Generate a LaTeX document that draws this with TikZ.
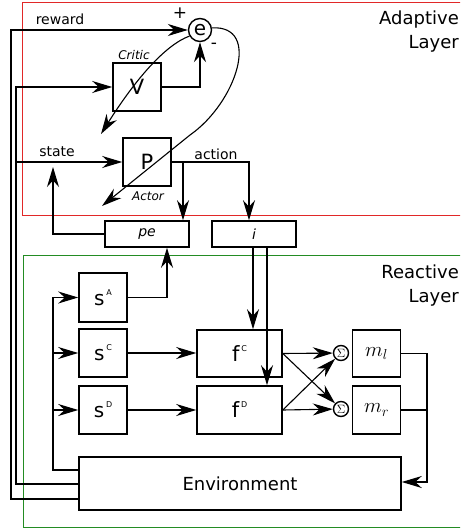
\documentclass[tikz,border=0pt]{standalone}
\usepackage{fontspec}
\setmainfont{DejaVu Sans}
\usetikzlibrary{arrows.meta,calc}
\definecolor{adaptred}{RGB}{225,40,40}
\definecolor{reactgreen}{RGB}{35,140,35}
\newcommand\fsz[1]{\fontsize{#1}{#1}\selectfont}
\newcommand\supl[1]{\hspace{1.8pt}\raisebox{10pt}{\fsz{8}#1}}
\tikzset{
  box/.style={draw, line width=1.6pt, inner sep=0pt},
  circ/.style={draw, circle, line width=1.4pt, inner sep=0pt},
  conn/.style={line width=1.1pt},
  arr/.style={conn, -{Stealth[length=20pt,width=12pt,inset=6.5pt]}},
  lbl/.style={inner sep=0pt, font=\fsz{14}},
  layer/.style={inner sep=0pt, anchor=north east, align=right, font=\fontsize{18}{23.5}\selectfont},
}
\begin{document}
\begin{tikzpicture}[x=1pt,y=-1pt]
\useasboundingbox (0,0) rectangle (460,529);
\clip (0,0) rectangle (460,529);
% layers
\draw[adaptred, line width=1.6pt] (22.5,2.5) rectangle (480,215.5);
\draw[reactgreen, line width=1.6pt] (23.5,255.5) rectangle (480,527.5);
\node[layer] (ladapt) at (459,11) {Adaptive\\Layer};
\node[layer] (lreact) at (459,265) {Reactive\\Layer};
% rails and levels
\coordinate (r11) at (11,0);
\coordinate (r16) at (16,0);
\coordinate (r53) at (53,0);
\coordinate (xb) at (183,0);
\coordinate (xa) at (249,0);
\coordinate (xc) at (167,0);
\coordinate (xd) at (253,0);
\coordinate (xe) at (267,0);
\coordinate (r427) at (427,0);
\coordinate (y470) at (0,470);
\coordinate (y482) at (0,482);
\coordinate (y484) at (0,484);
\coordinate (y499) at (0,499);
\coordinate (stateup) at (53,167);
\coordinate (cv1) at (101,134);
\coordinate (cv2) at (102,206);
% nodes
\node[circ, minimum size=23pt, font=\fsz{20}] (e) at (200,30) {e};
\node[box, minimum size=48pt, font=\fsz{21}] (V) at (137,87) {V};
\node[box, minimum size=48pt, font=\fsz{21}] (P) at (147,162) {P};
\node[box, minimum width=84pt, minimum height=26pt, font=\fsz{14}\itshape] (pe) at (147,234) {pe};
\node[box, minimum width=84pt, minimum height=26pt, font=\fsz{14}\itshape] (i) at (254,234) {i};
\node[box, minimum width=48pt, minimum height=49pt, font=\fsz{20}] (sA) at (103,297.5) {s\supl{A}};
\node[box, minimum width=48pt, minimum height=48pt, font=\fsz{20}] (sC) at (103,353) {s\supl{C}};
\node[box, minimum width=48pt, minimum height=48pt, font=\fsz{20}] (sD) at (103,410) {s\supl{D}};
\node[box, minimum width=85pt, minimum height=47pt, font=\fsz{21}] (fC) at (239.5,353.5) {f\supl{C}};
\node[box, minimum width=85pt, minimum height=48pt, font=\fsz{21}] (fD) at (239.5,410) {f\supl{D}};
\node[circ, minimum size=15pt] (sl) at (341,353) {\fsz{12}$\Sigma$};
\node[circ, minimum size=15pt] (sr) at (341,409) {\fsz{12}$\Sigma$};
\node[box, minimum width=48pt, minimum height=47pt] (ml) at (376.5,353.5) {\fsz{20}$m_l$};
\node[box, minimum width=48pt, minimum height=48pt] (mr) at (376.5,410) {\fsz{20}$m_r$};
\node[box, minimum width=322pt, minimum height=53pt, font=\fsz{18}] (Env) at (240,483.5) {Environment};
% labels
\node[lbl] (lreward) at (60,19) {reward};
\node[lbl] (lstate) at (57,152) {state};
\node[lbl] (laction) at (216,154) {action};
\node[lbl, font=\fsz{17}] (lplus) at (180,13) {+};
\node[lbl, font=\fsz{17}] (lminus) at (214,46) {-};
\node[lbl, font=\fsz{12}\itshape] (lcritic) at (134,55) {Critic};
\node[lbl, font=\fsz{12}\itshape] (lactor) at (148,196) {Actor};
% connectors
\draw[arr] (Env.west |- y499) -| (r11 |- e.west) -- (e.west);
\draw[arr] (Env.west |- y484) -| (r16 |- V.west) -- (V.west);
\draw[arr] (r16 |- P.west) -- (P.west);
\draw[arr] (V.east) -| (e.south);
\draw[arr] (P.east) -| (xa |- i.north);
\draw[arr] (xb |- P.east) -- (xb |- pe.north);
\draw[arr] (pe.west) -| (stateup);
\draw[arr] (sA.east) -| (xc |- pe.south);
\draw[arr] (xd |- i.south) -- (xd |- fC.north);
\draw[arr] (xe |- i.south) -- (xe |- fD.north);
\draw[arr] (Env.west |- y470) -| (r53 |- sA.west) -- (sA.west);
\draw[arr] (r53 |- sC.west) -- (sC.west);
\draw[arr] (r53 |- sD.west) -- (sD.west);
\draw[arr] (sC.east) -- (fC.west |- sC.east);
\draw[arr] (sD.east) -- (fD.west |- sD.east);
\draw[arr] (fC.east) -- (sl);
\draw[arr] (fC.east) -- (sr);
\draw[arr] (fD.east) -- (sr);
\draw[arr] (fD.east) -- (sl);
\draw[arr] (ml.east) -| (r427 |- y482) -- (Env.east |- y482);
\draw[conn] (mr.east) -- (r427 |- mr.east);
\draw[arr] (e.210) .. controls (165,45) and (135,80) .. (cv1);
\draw[arr] (e.10) .. controls (262,25) and (236,103) .. (190,135) -- (cv2);
\end{tikzpicture}
\end{document}
